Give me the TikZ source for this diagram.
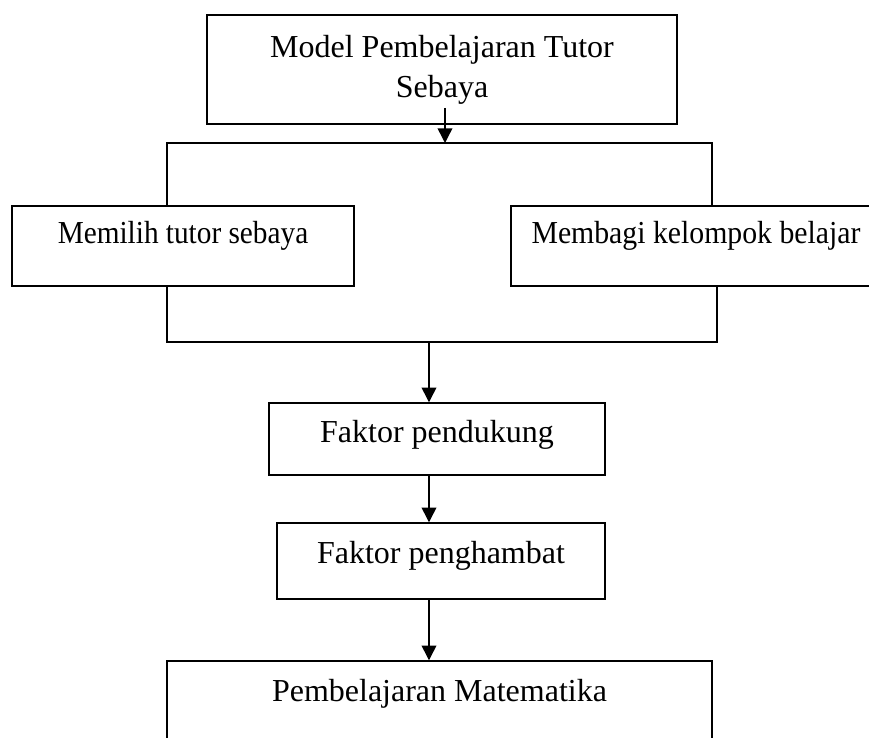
\documentclass[tikz,border=0pt]{standalone}
\usepackage{fontspec}
\setmainfont{Liberation Serif}
\usetikzlibrary{arrows.meta}
\begin{document}
\begin{tikzpicture}[x=0.75pt,y=-0.75pt,
  box/.style={draw,line width=1.1pt,rectangle,inner sep=0pt},
  lbl/.style={font=\fontsize{24}{30}\selectfont,anchor=base,inner sep=0pt},
  conn/.style={line width=1.1pt},
  arr/.style={line width=1.1pt,-{Triangle[length=11pt,width=11pt]}}]
\useasboundingbox (0,0) rectangle (869,738);
\clip (0,0) rectangle (869,738);
% boxes
\node[box,minimum width=352.5pt,minimum height=81.75pt,align=center,
      font=\fontsize{24}{30}\selectfont] (top) at (442,69.5)
      {Model Pembelajaran Tutor\\Sebaya};
\node[box,minimum width=256.5pt,minimum height=60pt] (left) at (183,246) {};
\node[box,minimum width=291.75pt,minimum height=60pt] (right) at (705.5,246) {};
\node[box,minimum width=252pt,minimum height=54pt] (fp) at (437,439) {};
\node[box,minimum width=246pt,minimum height=57pt] (fh) at (441,561) {};
\node[box,minimum width=408.75pt,minimum height=89.25pt] (pm) at (439.5,720.5) {};
% labels
\node[lbl] (tleft) at (183,244) {\scalebox{0.915}[1]{Memilih tutor sebaya}};
\node[lbl] (tright) at (696,244) {\scalebox{0.93}[1]{Membagi kelompok belajar}};
\node[lbl] (tfp) at (437,443) {Faktor pendukung};
\node[lbl] (tfh) at (441,563) {Faktor penghambat};
\node[lbl] (tpm) at (439.5,701) {Pembelajaran Matematika};
% bracket coordinates
\coordinate (a0) at (445,108);
\coordinate (tj) at (445,143);
\coordinate (tl) at (167,143);
\coordinate (tr) at (712,143);
\coordinate (bl) at (167,342);
\coordinate (br) at (717,342);
\coordinate (bj) at (429,342);
% connectors
\draw[arr] (a0) -- (tj);
\draw[conn] (left.north -| tl) -- (tl) -- (tr) -- (right.north -| tr);
\draw[conn] (left.south -| bl) -- (bl) -- (br) -- (right.south -| br);
\draw[arr] (bj) -- (bj |- fp.north);
\draw[arr] (bj |- fp.south) -- (bj |- fh.north);
\draw[arr] (bj |- fh.south) -- (bj |- pm.north);
\end{tikzpicture}
\end{document}
